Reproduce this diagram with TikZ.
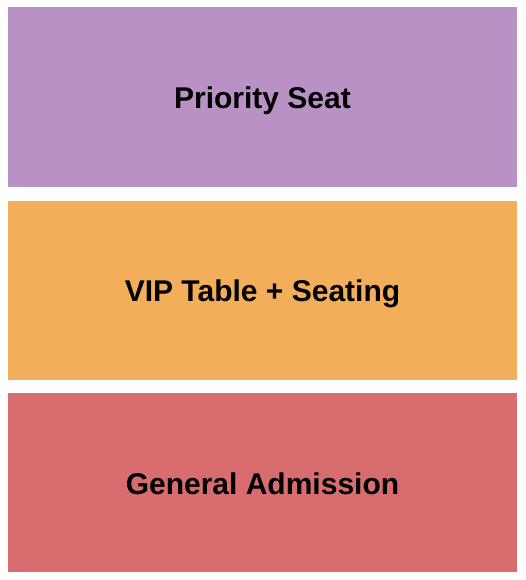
\documentclass[tikz,border=0pt]{standalone}
\usepackage{fontspec}
\setmainfont{Liberation Sans}
\definecolor{prio}{RGB}{186,145,196}
\definecolor{vip}{RGB}{242,174,90}
\definecolor{ga}{RGB}{216,108,110}
\begin{document}
\begin{tikzpicture}[x=1pt,y=-1pt,
  section/.style={draw=none,minimum width=509pt,minimum height=179pt,inner sep=0pt,
    text height=23pt,text depth=0pt,
    font=\fontsize{30}{35}\selectfont\bfseries,text=black}]
\useasboundingbox (0,0) rectangle (525,580);
\fill[white] (0,0) rectangle (525,580);
\node[section,fill=prio] (prio) at (262.5,97) {Priority Seat};
\node[section,fill=vip] (vip) at (262.5,290) {VIP Table + Seating};
\node[section,fill=ga] (ga) at (262.5,482.7) {General Admission};
\end{tikzpicture}
\end{document}
